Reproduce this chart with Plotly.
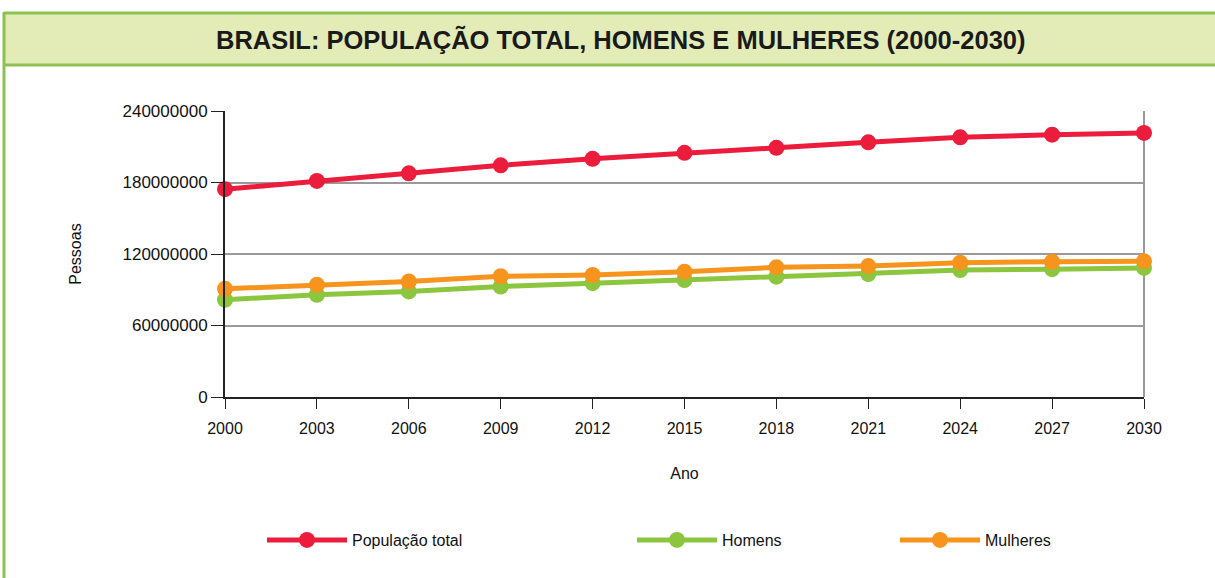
import plotly.graph_objects as go

anos = [2000, 2003, 2006, 2009, 2012, 2015, 2018, 2021, 2024, 2027, 2030]
total = [174.4, 181.3, 187.7, 194.4, 199.9, 204.9, 209.1, 213.7, 217.9, 220.1, 221.6]
homens = [81.6, 85.8, 88.6, 92.7, 95.5, 98.2, 101.0, 103.2, 106.5, 107.3, 108.3]
mulheres = [90.8, 94.1, 96.9, 101.3, 102.4, 105.2, 108.8, 109.9, 112.7, 113.5, 114.0]
yticks = [0, 60000000, 120000000, 180000000, 240000000]

series = [
    ("População total", total, "#ec1c3c", "legend", 262),
    ("Homens", homens, "#8cc63f", "legend2", 632),
    ("Mulheres", mulheres, "#f7941d", "legend3", 895),
]

FONT = "Liberation Sans, Arial, sans-serif"

W, H = 1215, 578
L, R, T, B = 225, 1144, 111, 397
pw, ph = R - L, B - T


def px(q):
    return (q - L) / pw


def py(p):
    return (B - p) / ph


fig = go.Figure()
legends = {}
for name, vals, col, lg, lx in series:
    fig.add_trace(go.Scatter(
        x=anos, y=[v * 1e6 for v in vals], name=name, mode="lines+markers",
        line=dict(color=col, width=5), marker=dict(color=col, size=16),
        legend=lg, cliponaxis=False,
    ))
    legends[lg] = dict(orientation="h", x=px(lx), y=py(540), yanchor="middle", xanchor="left",
                       itemwidth=80, bgcolor="rgba(0,0,0,0)",
                       font=dict(family=FONT, size=16, color="#111111"))

shapes = [
    dict(type="rect", xref="paper", yref="paper", x0=px(4), x1=px(1216), y0=py(65), y1=py(13),
         fillcolor="#e3ecb6", line=dict(width=0), layer="below"),
    dict(type="line", xref="paper", yref="paper", x0=px(4), x1=px(1216), y0=py(13), y1=py(13),
         line=dict(color="#8dc153", width=3)),
    dict(type="line", xref="paper", yref="paper", x0=px(4), x1=px(1216), y0=py(65), y1=py(65),
         line=dict(color="#8dc153", width=3)),
    dict(type="line", xref="paper", yref="paper", x0=px(4), x1=px(4), y0=py(12), y1=py(580),
         line=dict(color="#8dc153", width=3)),
    dict(type="line", xref="paper", yref="paper", x0=1, x1=1, y0=0, y1=1,
         line=dict(color="#999999", width=2), layer="below"),
]

fig.update_layout(
    width=W, height=H,
    margin=dict(l=L, r=W - R, t=T, b=H - B),
    paper_bgcolor="white", plot_bgcolor="white",
    font=dict(family=FONT, size=16, color="#111111"),
    shapes=shapes,
    showlegend=True,
    annotations=[
        dict(text="<b>BRASIL: POPULAÇÃO TOTAL, HOMENS E MULHERES (2000-2030)</b>",
             xref="paper", yref="paper", x=px(621), y=py(40), showarrow=False,
             font=dict(family=FONT, size=25.5, color="#1a1a1a"), xanchor="center", yanchor="middle"),
    ],
    **legends,
)

fig.update_xaxes(
    range=[2000, 2030], tickvals=anos, ticktext=[str(a) for a in anos],
    showline=True, linecolor="#222222", linewidth=2, ticks="outside", ticklen=10,
    tickcolor="#222222", showgrid=False, zeroline=False,
    tickfont=dict(size=16), ticklabelstandoff=6,
    title=dict(text="Ano", standoff=32, font=dict(size=16)),
)
fig.update_yaxes(
    range=[0, 240000000], tickvals=yticks, ticktext=[str(v) for v in yticks],
    showline=True, linecolor="#222222", linewidth=2, ticks="outside", ticklen=12,
    tickcolor="#222222", showgrid=True, gridcolor="#9a9a9a", gridwidth=1.5, zeroline=False,
    tickfont=dict(size=17),
    title=dict(text="Pessoas", standoff=37, font=dict(size=16)),
)

fig.write_html("out.html", config={"displayModeBar": False},
               post_script="document.body.style.margin='0px';")
